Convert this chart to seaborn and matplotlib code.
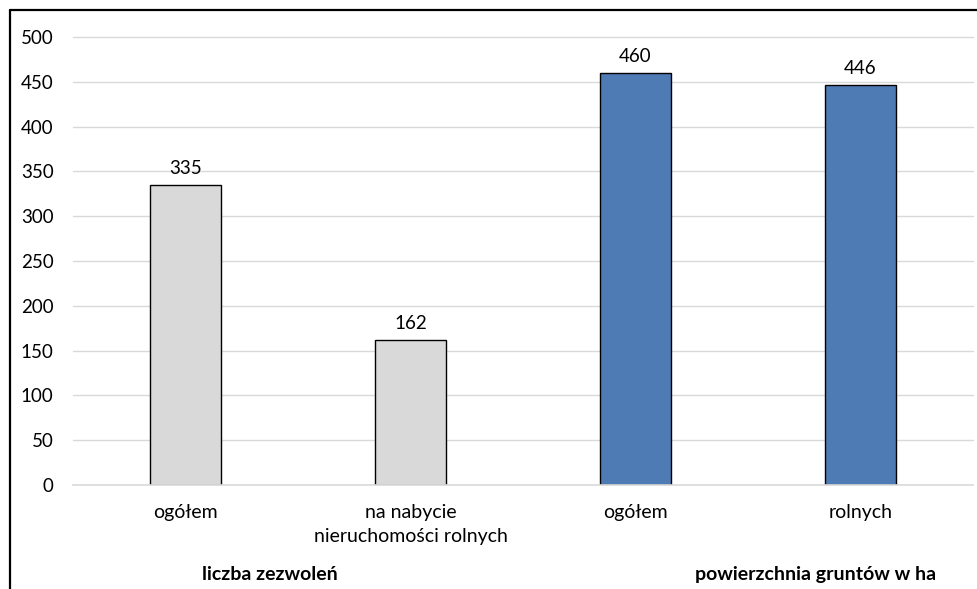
import matplotlib
matplotlib.use("Agg")
import matplotlib.pyplot as plt
from matplotlib.lines import Line2D
import seaborn as sns
import pandas as pd

# Data
tick_labels = ["ogółem", "na nabycie\nnieruchomości rolnych", "ogółem", "rolnych"]
values = [335, 162, 460, 446]
groups = ["liczba zezwoleń", "liczba zezwoleń", "powierzchnia gruntów w ha", "powierzchnia gruntów w ha"]
group_titles = ["liczba zezwoleń", "powierzchnia gruntów w ha"]
y_ticks = [0, 50, 100, 150, 200, 250, 300, 350, 400, 450, 500]

df = pd.DataFrame({
    "pozycja": [f"k{i}" for i in range(len(values))],
    "wartosc": values,
    "grupa": groups,
})

sns.set_theme(style="white")
plt.rcParams["font.family"] = ["Lato", "DejaVu Sans"]
plt.rcParams["text.color"] = "black"

FS_NUM = 13.5
FS_TXT = 14

fig = plt.figure(figsize=(9.77, 5.89), dpi=100)
ax = fig.add_axes([73 / 977, 1 - 485 / 589, 900 / 977, (485 - 37) / 589])

palette = {"liczba zezwoleń": "#d9d9d9", "powierzchnia gruntów w ha": "#4f7bb4"}
sns.barplot(data=df, x="pozycja", y="wartosc", hue="grupa", palette=palette,
            dodge=False, width=0.315, edgecolor="black", linewidth=1.0,
            saturation=1, legend=False, ax=ax, zorder=3)

ax.set_ylim(0, 500)
ax.set_xlim(-0.5, len(values) - 0.5)
ax.set_yticks(y_ticks)
ax.set_yticklabels([str(t) for t in y_ticks], fontsize=FS_NUM)
ax.set_xticks(range(len(values)))
ax.set_xticklabels(tick_labels, fontsize=FS_TXT, linespacing=1.45)
ax.tick_params(axis="both", length=0, colors="black", labelcolor="black")
ax.tick_params(axis="y", pad=14)
ax.tick_params(axis="x", pad=14)
ax.set_xlabel("")
ax.set_ylabel("")

for t in y_ticks[1:]:
    ax.axhline(t, color="#d9d9d9", linewidth=1.0, zorder=1, clip_on=False)
for s in ["top", "right", "left"]:
    ax.spines[s].set_visible(False)
ax.spines["bottom"].set_color("#d9d9d9")
ax.spines["bottom"].set_linewidth(1.2)
ax.spines["bottom"].set_zorder(4)

for container in ax.containers:
    ax.bar_label(container, fmt="%d", padding=6, fontsize=FS_NUM, color="black")

# Group titles under the category labels
for title, xc in zip(group_titles, [0.376, 2.80]):
    ax.text(xc, -0.2, title, transform=ax.get_xaxis_transform(),
            ha="center", va="center", fontsize=FS_TXT, fontweight="bold", color="black")

# Frame lines at top and left edge of the figure
fig.add_artist(Line2D([10 / 977, 10 / 977], [0, 1 - 10 / 589], color="black",
                      linewidth=1.6, transform=fig.transFigure))
fig.add_artist(Line2D([10 / 977, 1], [1 - 10 / 589, 1 - 10 / 589], color="black",
                      linewidth=1.6, transform=fig.transFigure))

fig.savefig("out.png", dpi=100)
